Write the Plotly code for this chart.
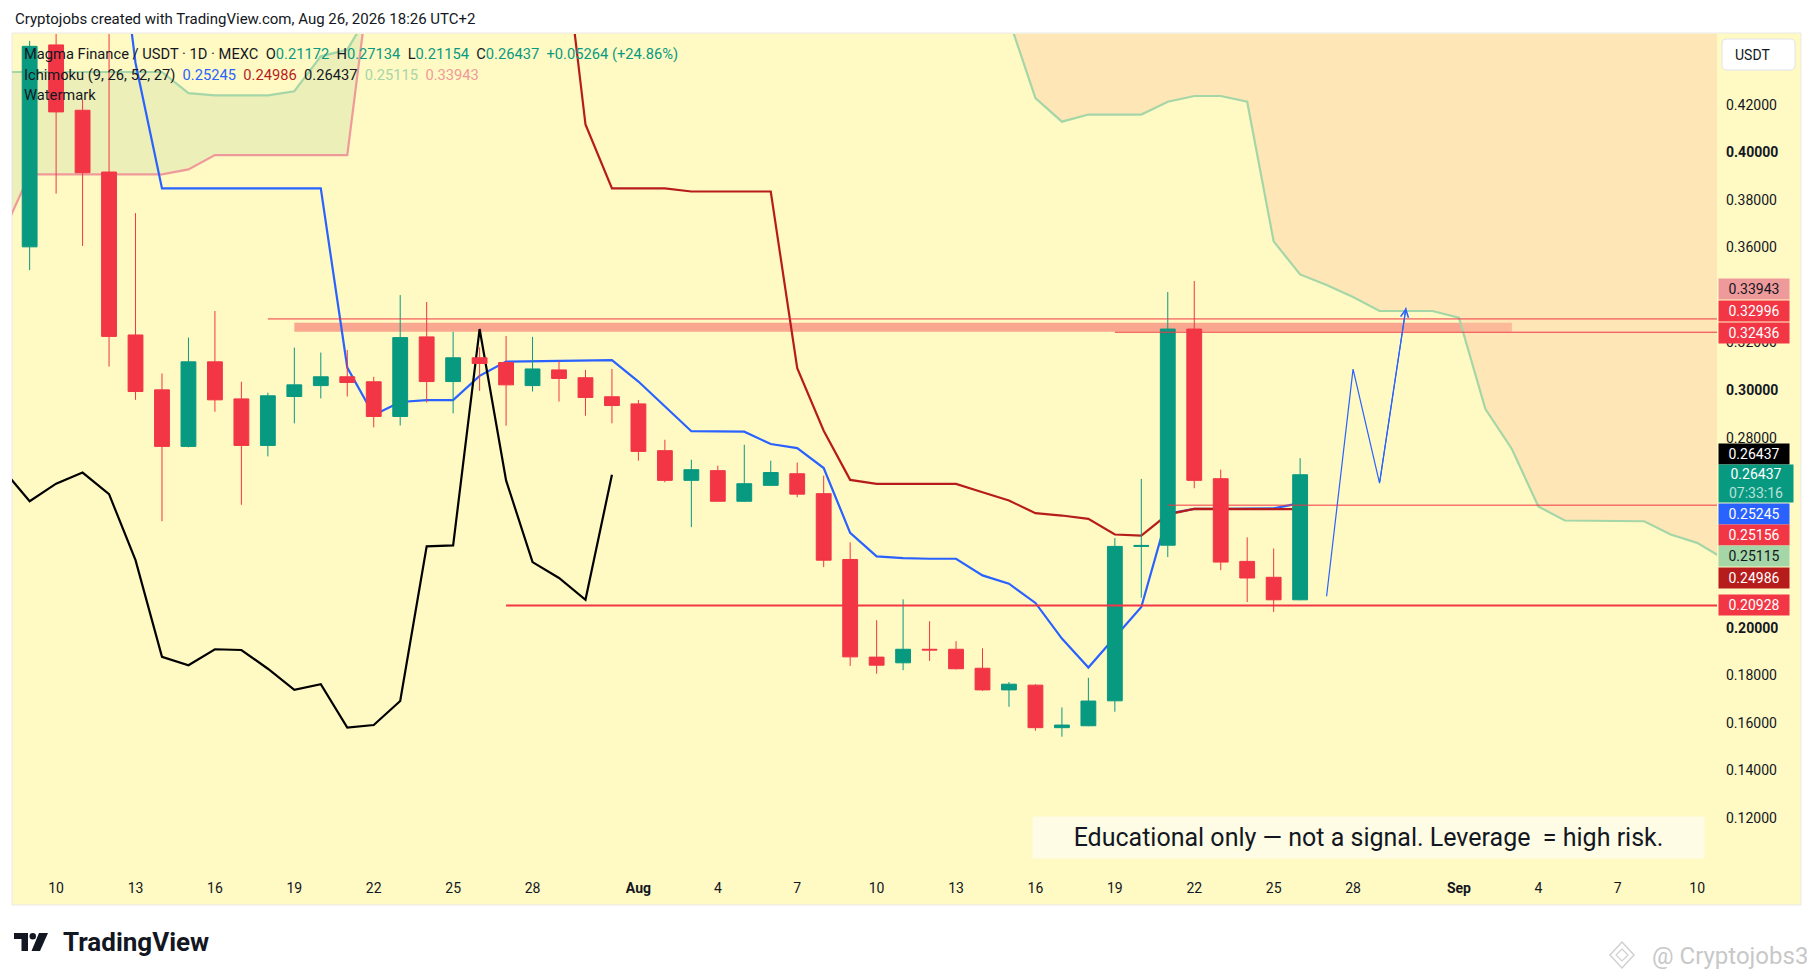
import pandas as pd
import plotly.graph_objects as go

# ---- daily candles, Jul 9 .. Aug 26 2026 ----
dates = pd.date_range("2026-07-09", periods=49, freq="D")
opens = [0.3603, 0.4453, 0.4178, 0.3918, 0.3232, 0.3001, 0.2763, 0.3119, 0.2963, 0.2767,
         0.2973, 0.3019, 0.3056, 0.3035, 0.2889, 0.3224, 0.3036, 0.3136, 0.3116, 0.3019,
         0.3085, 0.3052, 0.2972, 0.2942, 0.2745, 0.2620, 0.2661, 0.2532, 0.2599, 0.2648,
         0.2564, 0.2287, 0.1876, 0.1852, 0.1909, 0.1909, 0.1829, 0.1738, 0.1758, 0.1579,
         0.1587, 0.1692, 0.2342, 0.2347, 0.3257, 0.2627, 0.2279, 0.2212, 0.21172]
highs = [0.4470, 0.4550, 0.4223, 0.4600, 0.3745, 0.3070, 0.3221, 0.3333, 0.3035, 0.2989,
         0.3179, 0.3158, 0.3169, 0.3056, 0.3400, 0.3371, 0.3245, 0.3180, 0.3228, 0.3224,
         0.3123, 0.3085, 0.3089, 0.2958, 0.2791, 0.2707, 0.2682, 0.2770, 0.2703, 0.2695,
         0.2640, 0.2359, 0.2031, 0.2119, 0.2027, 0.1943, 0.1913, 0.1771, 0.1762, 0.1664,
         0.1789, 0.2377, 0.2626, 0.3413, 0.3459, 0.2665, 0.2380, 0.2333, 0.27134]
lows = [0.3505, 0.3827, 0.3607, 0.3099, 0.2959, 0.2448, 0.2759, 0.2909, 0.2517, 0.2721,
        0.2860, 0.2965, 0.2973, 0.2843, 0.2851, 0.2948, 0.2902, 0.2997, 0.2850, 0.2994,
        0.2952, 0.2892, 0.2860, 0.2703, 0.2612, 0.2423, 0.2530, 0.2530, 0.2599, 0.2549,
        0.2255, 0.1839, 0.1806, 0.1821, 0.1860, 0.1824, 0.1734, 0.1667, 0.1566, 0.1541,
        0.1585, 0.1646, 0.2126, 0.2297, 0.2587, 0.2242, 0.2108, 0.2066, 0.21154]
closes = [0.4447, 0.4171, 0.3915, 0.3226, 0.2994, 0.2763, 0.3119, 0.2959, 0.2767, 0.2976,
          0.3022, 0.3056, 0.3032, 0.2889, 0.3221, 0.3036, 0.3136, 0.3112, 0.3022, 0.3089,
          0.3049, 0.2969, 0.2935, 0.2742, 0.2620, 0.2665, 0.2532, 0.2606, 0.2653, 0.2562,
          0.2284, 0.1877, 0.1842, 0.1909, 0.1906, 0.1827, 0.1738, 0.1762, 0.1579, 0.1590,
          0.1691, 0.2342, 0.2346, 0.3257, 0.2620, 0.2276, 0.2209, 0.21172, 0.26437]

# ---- Ichimoku (9, 26, 52, 27) ----
tenkan = [0.527, 0.527, 0.527, 0.527, 0.4377, 0.3849, 0.3849, 0.3849, 0.3849, 0.3849,
          0.3849, 0.3849, 0.3095, 0.2895, 0.2950, 0.2958, 0.2958, 0.3060, 0.3120, 0.3121,
          0.3122, 0.3124, 0.3126, 0.3036, 0.2932, 0.2827, 0.2826, 0.2825, 0.2773, 0.2756,
          0.2672, 0.2399, 0.2300, 0.2293, 0.2290, 0.2290, 0.2220, 0.2185, 0.2104, 0.1954,
          0.1832, 0.1960, 0.2087, 0.2480, 0.2500, 0.2500, 0.2500, 0.2502, 0.25245]
kijun = ([0.506] * 21
         + [0.4118, 0.3849, 0.3849, 0.3849, 0.3836, 0.3836, 0.3836, 0.3836, 0.3092]
         + [0.2829, 0.2622, 0.2605, 0.2605, 0.2605, 0.2605, 0.2570, 0.2535, 0.2482, 0.2472,
            0.2458, 0.2392, 0.2387, 0.2477, 0.2500, 0.2500, 0.2500, 0.2500, 0.24986])
lag_shift = 26

cloud_dates = pd.date_range("2026-07-08", "2026-09-11", freq="D")
span_a = ([0.4339] * 7 + [0.4250, 0.4241, 0.4241, 0.4241, 0.4258, 0.4405, 0.4433, 0.4620]
          + [0.470] * 23
          + [0.4560, 0.4229, 0.4130, 0.4160, 0.4160, 0.4160, 0.4214, 0.4238, 0.4238, 0.4214,
             0.3626, 0.3487, 0.3442, 0.3392, 0.3333, 0.3333, 0.3333,
             0.3305, 0.2920, 0.2752, 0.2510, 0.2451, 0.2450, 0.2449, 0.2448, 0.2392, 0.2357,
             0.2291])
span_b = [0.3664] + [0.3908] * 6 + [0.3929] + [0.3989] * 6 + [0.4870] + [0.500] * 51
cross_idx = 14  # Jul 22, where span B climbs over span A

legend_ohlc = ["0.21172", "0.27134", "0.21154", "0.26437"]
legend_change = "+0.05264 (+24.86%)"
legend_ichi = ["0.25245", "0.24986", "0.26437", "0.25115", "0.33943"]

# ---- drawings ----
hline_prices = [0.32996, 0.32436, 0.25156, 0.20928]
hline_starts = ["2026-07-18", "2026-08-19", "2026-08-21", "2026-07-27"]
hline_widths = [1, 1, 1, 2]
zone_low, zone_high = 0.3246, 0.3284
zone_start, zone_split, zone_end = "2026-07-19", "2026-09-01 03:00", "2026-09-03"
proj_dates = ["2026-08-27", "2026-08-28", "2026-08-29", "2026-08-30"]
proj_prices = [0.2132, 0.3088, 0.2608, 0.3347]

x_range = ["2026-07-08 08:00", "2026-09-10 18:00"]
y_range = [0.0963, 0.4499]

x_tick_dates = ["2026-07-10", "2026-07-13", "2026-07-16", "2026-07-19", "2026-07-22",
                "2026-07-25", "2026-07-28", "2026-08-01", "2026-08-04", "2026-08-07",
                "2026-08-10", "2026-08-13", "2026-08-16", "2026-08-19", "2026-08-22",
                "2026-08-25", "2026-08-28", "2026-09-01", "2026-09-04", "2026-09-07",
                "2026-09-10"]
x_tick_text = ["10", "13", "16", "19", "22", "25", "28", "<b>Aug</b>", "4", "7", "10", "13",
               "16", "19", "22", "25", "28", "<b>Sep</b>", "4", "7", "10"]
y_tick_vals = [0.12, 0.14, 0.16, 0.18, 0.20, 0.28, 0.30, 0.32, 0.36, 0.38, 0.40, 0.42]

# price tags on the right scale: text, background, text colour, centre (px)
price_tags = [
    ("0.33943", "#EF9A9A", "#131722", 289.3),
    ("0.32996", "#F23645", "white", 310.7),
    ("0.32436", "#F23645", "white", 332.7),
    ("0.26437", "#000000", "white", 453.7),
    ("0.25245", "#2962FF", "white", 513.7),
    ("0.25156", "#F23645", "white", 535.0),
    ("0.25115", "#A5D6A7", "#131722", 556.0),
    ("0.24986", "#B71C1C", "white", 577.7),
    ("0.20928", "#F23645", "white", 605.3),
]
countdown = "07:33:16"

# ---- pixel helpers (reference pixels; page body adds an 8px margin) ----
PAGE_W, PAGE_H, BODY = 1815, 980, 8
PL, PR, PT, PB = 12, 1717, 34, 874
FONT = "Roboto, sans-serif"
INK = "#131722"


def X(px):
    return (px - PL) / (PR - PL)


def Y(py):
    return (PB - py) / (PB - PT)


# ---- traces ----
traces = []
ca = list(cloud_dates[:cross_idx + 1])
traces.append(go.Scatter(
    x=ca + ca[::-1], y=span_a[:cross_idx + 1] + span_b[:cross_idx + 1][::-1],
    fill="toself", fillcolor="rgba(67,160,71,0.1)", line=dict(width=0),
    mode="lines", hoverinfo="skip", zorder=-2))
cb = list(cloud_dates[cross_idx:])
traces.append(go.Scatter(
    x=cb + cb[::-1], y=span_a[cross_idx:] + span_b[cross_idx:][::-1],
    fill="toself", fillcolor="rgba(244,67,54,0.1)", line=dict(width=0),
    mode="lines", hoverinfo="skip", zorder=-2))

traces.append(go.Scatter(x=cloud_dates, y=span_a, mode="lines",
                         line=dict(color="#A5D6A7", width=2.2), zorder=0))
traces.append(go.Scatter(x=cloud_dates, y=span_b, mode="lines",
                         line=dict(color="#EF9A9A", width=2.2), zorder=0))
traces.append(go.Scatter(x=dates, y=tenkan, mode="lines",
                         line=dict(color="#2962FF", width=2.2), zorder=0))
traces.append(go.Scatter(x=dates, y=kijun, mode="lines",
                         line=dict(color="#B71C1C", width=2.2), zorder=0))
traces.append(go.Scatter(x=dates - pd.Timedelta(days=lag_shift), y=closes, mode="lines",
                         line=dict(color="#000000", width=2.2), zorder=0))

traces.append(go.Candlestick(
    x=dates, open=opens, high=highs, low=lows, close=closes,
    increasing=dict(line=dict(color="#089981", width=1), fillcolor="#089981"),
    decreasing=dict(line=dict(color="#F23645", width=1), fillcolor="#F23645"),
    whiskerwidth=0, zorder=1))

traces.append(go.Scatter(x=proj_dates, y=proj_prices, mode="lines",
                         line=dict(color="#2962FF", width=1.2), zorder=2))

fig = go.Figure(data=traces)

# ---- shapes ----
shapes = [dict(type="rect", xref="paper", yref="paper", x0=X(12), x1=X(1801),
               y0=Y(905), y1=Y(33), fillcolor="#FFF9C4",
               line=dict(color="#E9E9E9", width=1), layer="below")]
shapes.append(dict(type="rect", xref="x", yref="y", x0=zone_start, x1=zone_split,
                   y0=zone_low, y1=zone_high, fillcolor="rgba(242,54,69,0.42)",
                   line=dict(width=0), layer="below"))
shapes.append(dict(type="rect", xref="x", yref="y", x0=zone_split, x1=zone_end,
                   y0=zone_low, y1=zone_high, fillcolor="rgba(242,54,69,0.25)",
                   line=dict(width=0), layer="below"))
for p, s, w in zip(hline_prices, hline_starts, hline_widths):
    shapes.append(dict(type="line", xref="x", yref="y", x0=s, x1=x_range[1], y0=p, y1=p,
                       line=dict(color="#F23645", width=w), layer="above"))


def rounded(x0, y0, x1, y1, r):
    return (f"M {X(x0 + r)},{Y(y0)} L {X(x1 - r)},{Y(y0)} Q {X(x1)},{Y(y0)} {X(x1)},{Y(y0 + r)} "
            f"L {X(x1)},{Y(y1 - r)} Q {X(x1)},{Y(y1)} {X(x1 - r)},{Y(y1)} "
            f"L {X(x0 + r)},{Y(y1)} Q {X(x0)},{Y(y1)} {X(x0)},{Y(y1 - r)} "
            f"L {X(x0)},{Y(y0 + r)} Q {X(x0)},{Y(y0)} {X(x0 + r)},{Y(y0)} Z")


shapes.append(dict(type="path", xref="paper", yref="paper", path=rounded(1722, 39, 1795, 70, 5),
                   fillcolor="white", line=dict(color="#E0E3EB", width=1)))

# TradingView logo mark
shapes += [
    dict(type="rect", xref="paper", yref="paper", x0=X(14), x1=X(28), y0=Y(939), y1=Y(933),
         fillcolor=INK, line=dict(width=0)),
    dict(type="rect", xref="paper", yref="paper", x0=X(21.5), x1=X(28), y0=Y(951), y1=Y(933),
         fillcolor=INK, line=dict(width=0)),
    dict(type="circle", xref="paper", yref="paper", x0=X(29.5), x1=X(36), y0=Y(939.5), y1=Y(933),
         fillcolor=INK, line=dict(width=0)),
    dict(type="path", xref="paper", yref="paper",
         path=f"M {X(39)},{Y(933)} L {X(48)},{Y(933)} L {X(40)},{Y(951)} L {X(31.5)},{Y(951)} Z",
         fillcolor=INK, line=dict(width=0)),
]
# watermark icon
shapes.append(dict(type="path", xref="paper", yref="paper",
                   path=f"M {X(1622)},{Y(942)} L {X(1634)},{Y(955)} L {X(1622)},{Y(968)} "
                        f"L {X(1610)},{Y(955)} Z",
                   line=dict(color="#D0D0D0", width=1.5)))
shapes.append(dict(type="path", xref="paper", yref="paper",
                   path=f"M {X(1622)},{Y(949)} L {X(1628)},{Y(955)} L {X(1622)},{Y(961)} "
                        f"L {X(1616)},{Y(955)} Z",
                   line=dict(color="#D0D0D0", width=1.2)))

# ---- annotations ----
ann = []


def text(px, py, s, size=15, color=INK, anchor="left", **kw):
    ann.append(dict(xref="paper", yref="paper", x=X(px), y=Y(py), text=s, showarrow=False,
                    xanchor=anchor, yanchor="middle", font=dict(family=FONT, size=size, color=color),
                    **kw))


sp = "\u00a0\u00a0"
text(13, 18.5, "Cryptojobs created with TradingView.com, Aug 26, 2026 18:26 UTC+2", size=15)
teal = "#089981"
line1 = ("Magma Finance / USDT · 1D · MEXC" + sp
         + sp.join(f"{k}<span style='color:{teal}'>{v}</span>"
                   for k, v in zip("OHLC", legend_ohlc))
         + sp + f"<span style='color:{teal}'>{legend_change}</span>")
text(22, 53.5, line1, size=14.7)
ichi_cols = ["#2962FF", "#B71C1C", "#131722", "#A5D6A7", "#EF9A9A"]
line2 = "Ichimoku (9, 26, 52, 27)" + sp + sp.join(
    f"<span style='color:{c}'>{v}</span>" for v, c in zip(legend_ichi, ichi_cols))
text(22, 74.5, line2, size=14.7)
text(22, 95.5, "Watermark", size=14.7)

text(1733, 54.5, "USDT", size=14)

for s, bg, fg, cy in price_tags:
    text(1718, cy, s, size=14, color=fg, bgcolor=bg, width=66, height=16, borderpad=2,
         align="center")
text(1718, 483.3, f"{closes[-1]:.5f}<br><span style='color:rgba(255,255,255,0.72)'>{countdown}</span>",
     size=14, color="white", bgcolor="#089981", width=70, height=33, borderpad=2, align="center")

ann.append(dict(xref="paper", yref="paper", x=X(1032), y=Y(837.5),
                text="Educational only \u2014 not a signal. Leverage\u00a0\u00a0= high risk.",
                showarrow=False, xanchor="left", yanchor="middle", width=671, height=41,
                borderpad=0, bgcolor="#FFFCE6", align="center",
                font=dict(family=FONT, size=25, color=INK)))

text(61, 942, "<b>TradingView</b>", size=26)
text(1810, 956, "@ Cryptojobs3", size=24, color="#C8C8C8", anchor="right")

ann.append(dict(x=proj_dates[-1], y=proj_prices[-1], ax=proj_dates[-2], ay=proj_prices[-2],
                xref="x", yref="y", axref="x", ayref="y", text="", showarrow=True,
                arrowhead=5, arrowsize=1.3, arrowwidth=1.2, arrowcolor="#2962FF"))

fig.update_layout(
    width=PAGE_W - BODY, height=PAGE_H - BODY,
    margin=dict(l=PL - BODY, r=PAGE_W - PR, t=PT - BODY, b=PAGE_H - PB, pad=0),
    paper_bgcolor="white", plot_bgcolor="#FFF9C4",
    showlegend=False, hovermode=False,
    boxgap=0.2,
    font=dict(family=FONT, size=14, color=INK),
    shapes=shapes, annotations=ann,
    xaxis=dict(type="date", range=x_range, tickvals=x_tick_dates, ticktext=x_tick_text,
               showgrid=False, zeroline=False, showline=False, ticks="",
               tickfont=dict(family=FONT, size=14, color=INK), ticklabelstandoff=4,
               rangeslider=dict(visible=False), automargin=False, fixedrange=True),
    yaxis=dict(range=y_range, side="right", tickvals=y_tick_vals,
               ticktext=[f"<b>{v:.5f}</b>" if round(v * 100) % 10 == 0 else f"{v:.5f}"
                         for v in y_tick_vals],
               showgrid=False, zeroline=False, showline=False, ticks="",
               tickfont=dict(family=FONT, size=14, color=INK), ticklabelstandoff=8,
               automargin=False, fixedrange=True),
)

fig.write_html("out.html")
